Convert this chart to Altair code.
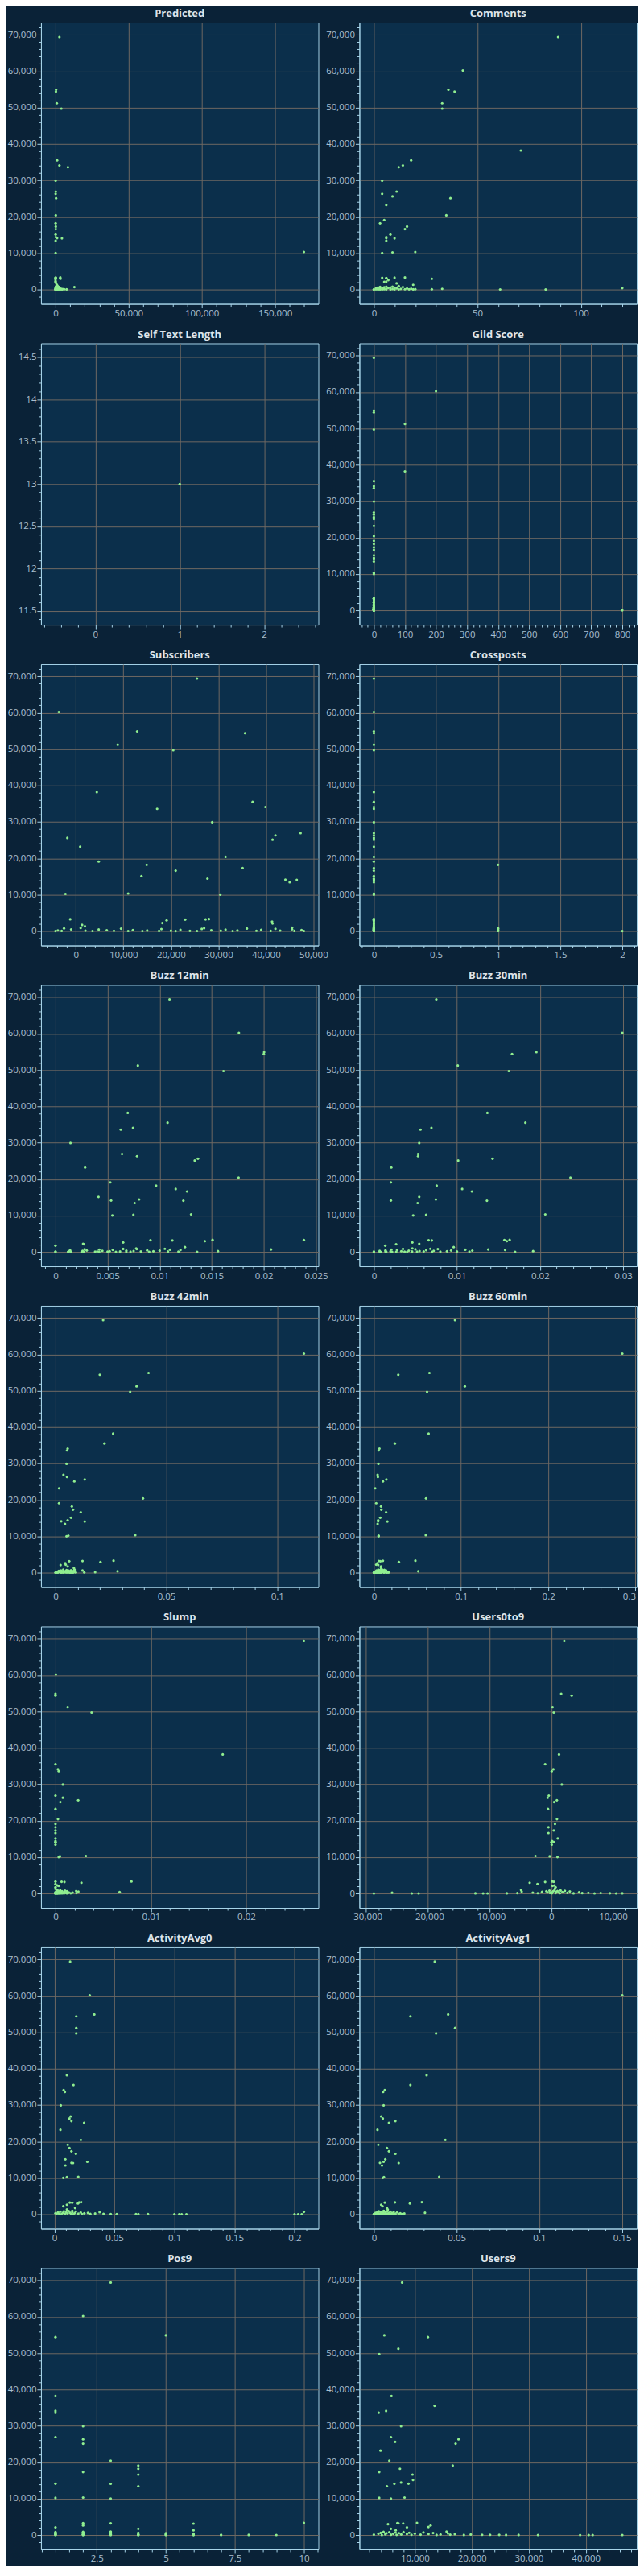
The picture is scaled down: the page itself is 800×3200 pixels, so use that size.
import altair as alt
import pandas as pd
import numpy as np

# ---------------- colours / fonts ----------------
BG = "#0a2237"
PLOT_BG = "#0b2f4b"
BORDER = "#a6d3e8"
GRID = "#6f6862"
LABEL = "#a9bfcf"
TITLE_C = "#dde4ea"
GREEN = "#90ee90"
FONT = "Open Sans"

# ---------------- shared target values ----------------
HIGH_Y = [69400, 60200, 54900, 54400, 51200, 49700, 38200, 35500, 34100, 33600,
          29900, 26900, 26300, 25600, 25100, 23200, 20400, 19100, 18200, 17300,
          16600, 15100, 14400, 14100, 14050, 13400, 10000, 10200, 10300]
MID_Y = [3300, 3250, 3200, 3150, 3100, 2950, 2600, 2200, 2100, 1700, 1300, 950]
LOW_Y = [850, 800, 760, 700, 660, 620, 580, 540, 500, 460,
         420, 380, 350, 320, 290, 260, 230, 200, 180, 160,
         140, 120, 100, 90, 80, 70, 60, 50, 40, 35,
         30, 25, 20, 15, 12, 10, 8, 5, 3, 0]

# ---------------- feature values ----------------
predicted_high = [2700, None, 400, 300, 900, 4000, None, 1100, 2700, 8500,
                  100, 200, 100, None, 400, None, 200, None, 100, 200,
                  200, 100, 200, 1100, 4400, 100, 100, None, 169800]
predicted_mid = [3300, 200, 0, 100, 3200, 3400, 0, 100, 0, 500, 1000, 1500]
predicted_low = [400, 1500, 300, 2200, 12900, 800, 1200, 200, 2600, 600,
                 1000, 3000, 100, 1800, 500, 2400, 300, 700, 4000, 1300,
                 100, 5000, 900, 200, 6000, 1600, 400, 3500, 0, 2000,
                 7600, 300, 1100, 0, 4500, 600, 2800, 200, 0, 100]

comments_high = [89, 43, 36, 39, 33, 33, 71, 18, 14, 12,
                 4, 11, 4, 9, 37, 6, 35, 5, 3, 16,
                 15, 8, 6, 6, 10, 6, 4, 9, 20]
comments_mid = [15, 10, 4, 6, 6, 28, 7, 6, 5, 11, 19, 12]
comments_low = [12, 6, 9, 3, 14, 5, 8, 2, 10, 4,
                7, 120, 1, 11, 16, 3, 6, 18, 33, 13,
                2, 9, 20, 5, 15, 28, 1, 17, 8, 4,
                19, 0, 12, 3, 10, 61, 6, 83, 2, 0]

selftext_x = [1]
selftext_y = [13]

gild_high = [0, 200, 0, 0, 100, 0, 100, 0, 0, 0,
             0, 0, 0, 0, 0, 0, 0, 0, 0, 0,
             0, 0, 0, 0, 0, 0, 0, 0, 0]
gild_mid = [0, 0, 0, 0, 0, 0, 0, 0, 0, 0, 0, 0]
gild_low = [0, 0, 0, 0, 0, 0, 0, 0, 0, 0,
            0, 0, 0, 0, 0, 0, 0, 0, 0, 0,
            0, 0, 0, 0, 0, 0, 0, 0, 0, 0,
            0, 0, 0, 0, 0, 0, 0, 0, 0, 800]

subscribers_high = [25500, -3600, 12900, 35600, 8800, 20500, 4400, 37200, 39900, 17100,
                    28700, 47300, 42000, -1800, 41400, 900, 31500, 4800, 14900, 35100,
                    21000, 13800, 27700, 44100, 46500, 45000, 30400, -2200, 11000]
subscribers_mid = [28000, -1200, 27300, 23000, None, 19100, 41300, 18200, 41400, 1300, 1900, 45500]
subscribers_low = [1000, 27000, -2500, 36000, 9500, 42000, 26500, 18000, 45500, -1000,
                   4800, 31500, 22000, 39000, 12000, 47500, 6500, 28500, -3800, 34000,
                   15000, 43000, 2000, 20000, 30500, 8000, 38000, 24000, 46000, -3000,
                   17500, 41000, 11000, 33000, 3500, 14000, 48000, 25500, -4300, 21000]

crossposts_high = [0, 0, 0, 0, 0, 0, 0, 0, 0, 0,
                   0, 0, 0, 0, 0, 0, 0, 0, 1, 0,
                   0, 0, 0, 0, 0, 0, 0, 0, 0]
crossposts_mid = [0, 0, 0, 0, 0, 0, 0, 0, 0, 0, 0, 0]
crossposts_low = [0, 1, 0, 0, 1, 0, 0, 0, 0, 0,
                  1, 0, 0, 0, 0, 0, 0, 1, 0, 0,
                  0, 0, 1, 0, 0, 0, 0, 0, 0, 0,
                  1, 0, 0, 0, 0, 0, 0, 0, 0, 2]

buzz12_high = [0.01095, 0.01761, 0.02003, 0.02, 0.00791, 0.01613, 0.00694, 0.01076, 0.00744, 0.00627,
               0.00144, 0.00639, 0.00783, 0.01368, 0.01337, 0.00284, 0.01758, 0.00526, 0.00966, 0.01154,
               0.01263, 0.00413, 0.00803, 0.00534, 0.01228, 0.0076, 0.00546, 0.00748, 0.01302]
buzz12_mid = [0.01508, 0.02385, 0.00912, 0.01122, None, 0.01434, 0.0065, 0.00265, 0.00273, 0.0, 0.01243, 0.00775]
buzz12_low = [0.0105, 0.0065, 0.0078, 0.0028, 0.0207, 0.0042, 0.0110, 0.0055, 0.0120, 0.0014,
              0.0088, 0.0030, 0.0068, 0.0100, 0.0045, 0.0026, 0.0075, 0.0156, 0.0052, 0.0094,
              0.0013, 0.0040, 0.0082, 0.0062, 0.0108, 0.0027, 0.0000, 0.0118, 0.0050, 0.0072,
              0.0038, 0.0015, 0.0090, 0.0058, 0.0025, 0.0136, 0.0042, 0.0068, 0.0000, 0.0012]

buzz30_high = [0.00751, 0.0299, 0.01956, 0.01663, 0.0101, 0.01624, 0.01366, 0.01824, 0.00693, 0.00561,
               0.00546, 0.00532, 0.00532, 0.01429, 0.01015, 0.0021, 0.02366, 0.00205, 0.00756, 0.01063,
               0.0118, 0.00546, 0.00746, 0.00205, 0.01361, 0.00527, 0.00473, 0.00629, 0.02063]
buzz30_mid = [0.01634, 0.01571, 0.00659, 0.00698, None, 0.016, 0.00463, 0.00546, 0.00268, 0.00137, 0.00961, 0.00463]
buzz30_low = [0.0068, 0.0035, 0.0077, 0.0050, 0.01376, 0.0021, 0.0110, 0.0028, 0.0158, 0.0063,
              0.0014, 0.0093, 0.01185, 0.0042, 0.0072, 0.0007, 0.0055, 0.01917, 0.0033, 0.0088,
              0.0020, 0.0060, 0.0100, 0.0014, 0.0046, 0.0080, 0.0027, 0.0115, 0.0007, 0.0052,
              0.0037, 0.0000, 0.0070, 0.0022, 0.0170, 0.0015, 0.0040, 0.0000, 0.0008, 0.0000]

buzz42_high = [0.0215, 0.1121, 0.042, 0.02, 0.0366, 0.0337, 0.026, 0.0221, 0.0055, 0.0052,
               0.005, 0.0036, 0.0052, 0.0132, 0.0085, 0.0016, 0.0395, 0.0016, 0.0074, 0.0079,
               0.0114, 0.007, 0.0055, 0.0026, 0.0132, 0.0043, 0.005, 0.0058, 0.036]
buzz42_mid = [0.0262, None, 0.0122, 0.0062, None, 0.0203, 0.0044, 0.0046, 0.0023, 0.0055, 0.0083, None]
buzz42_low = [0.0085, 0.0035, 0.0090, 0.0050, 0.0070, 0.0025, 0.0122, 0.0060, 0.0015, 0.0080,
              0.0045, 0.028, 0.0030, 0.0068, 0.0010, 0.0055, 0.0088, 0.0020, 0.0040, 0.0075,
              0.0179, 0.0012, 0.0062, 0.0130, 0.0035, 0.0082, 0.0005, 0.0048, 0.0092, 0.0022,
              0.0066, 0.0002, 0.0038, 0.0078, 0.0010, 0.0056, 0.0028, 0.0000, 0.0072, 0.0001]

buzz60_high = [0.093, 0.2848, 0.0637, 0.028, 0.1043, 0.061, 0.0628, 0.0241, 0.0064, 0.0055,
               0.0052, 0.0043, 0.0046, 0.0143, 0.0104, 0.0015, 0.0598, 0.0027, 0.0082, 0.0085,
               0.014, 0.0073, 0.0049, 0.0049, 0.0155, 0.0043, 0.0055, 0.0055, 0.0595]
buzz60_mid = [0.0476, 0.0104, 0.0058, 0.0076, None, 0.0287, 0.004, 0.0027, 0.005, 0.0082, 0.0082, 0.009]
buzz60_low = [0.0090, 0.0050, 0.0120, 0.0070, 0.0100, 0.0030, 0.0140, 0.0060, 0.0080, 0.0110,
              0.0040, 0.0509, 0.0020, 0.0095, 0.0130, 0.0055, 0.0015, 0.0075, 0.0105, 0.0035,
              0.0160, 0.0065, 0.0010, 0.0085, 0.0045, 0.0125, 0.0025, 0.0170, 0.0005, 0.0068,
              0.0115, 0.0038, 0.0003, 0.0082, 0.0150, 0.0018, 0.0058, 0.0000, 0.0028, 0.0001]

slump_high = [0.02604, 0.00004, 0.0, 0.0, 0.00128, 0.00379, 0.01753, 0.0, 0.00026, 0.00034,
              0.00077, 0.0, 0.00077, 0.00238, 0.00051, 0.0, 0.00026, 0.0, 0.0, 0.0,
              0.0, 0.0, 0.0, 0.0, 0.0, 0.0, 0.00034, 0.00047, 0.00319]
slump_mid = [0.00796, 0.0, 0.00064, 0.00094, None, 0.00272, 0.0, 0.0002, 0.00034, 0.0, 0.0, 0.0001]
slump_low = [0.0005, 0.0002, 0.0010, 0.0003, 0.00217, 0.0007, 0.0012, 0.0001, 0.0024, 0.0006,
             0.0004, 0.00672, 0.0009, 0.0000, 0.0014, 0.0002, 0.0018, 0.0005, 0.0003, 0.0011,
             0.0000, 0.0008, 0.0022, 0.0001, 0.0006, 0.0013, 0.0000, 0.0004, 0.0016, 0.0002,
             0.0009, 0.0000, 0.0007, 0.0003, 0.0012, 0.0000, 0.0005, 0.0001, 0.0000, 0.0002]

users0to9_high = [2100, None, 1600, 3300, 200, 400, 1250, -1000, 330, 70,
                  1700, -400, -600, 900, 460, -530, 920, 600, -460, 400,
                  -460, 1050, 130, 400, 0, 70, 1000, -260, -2570]
users0to9_mid = [130, None, 400, -1000, None, -3500, -2240, 500, 200, 700, 600, -4900]
users0to9_low = [500, 1500, -300, 2200, 1000, -800, 300, 3000, -4800, 800,
                 -1500, 1800, 0, 4500, -600, 1200, -3000, -25800, 6000, 2600,
                 -200, 8000, 700, -5500, 5000, 1400, -2200, 9500, 100, -7200,
                 3600, -12300, 11500, -21500, 7000, -10330, -22600, -11050, 10500, -28750]

activity0_high = [0.0132, 0.0295, 0.0333, 0.0183, 0.0183, 0.0183, 0.0105, 0.016, 0.0078, 0.0088,
                  0.0054, 0.0136, 0.0126, 0.0143, 0.0248, 0.0051, 0.0221, 0.0112, 0.0126, 0.0143,
                  0.018, 0.0092, 0.0275, 0.0143, 0.0156, 0.0092, 0.0075, 0.0105, 0.02]
activity0_mid = [0.0224, 0.0207, 0.0129, 0.0149, None, 0.0197, 0.0105, 0.0075, None, 0.0173, 0.0105, 0.015]
activity0_low = [0.012, 0.008, 0.018, 0.005, 0.2078, 0.015, 0.0377, 0.010, 0.022, 0.003,
                 0.013, 0.028, 0.007, 0.017, 0.001, 0.025, 0.011, 0.034, 0.004, 0.020,
                 0.009, 0.041, 0.014, 0.002, 0.030, 0.047, 0.006, 0.016, 0.052, 0.023,
                 0.068, 0.070, 0.078, 0.100, 0.104, 0.106, 0.110, 0.200, 0.203, 0.206]

activity1_high = [0.0368, 0.1502, 0.0449, 0.0221, 0.0491, 0.0376, 0.0319, 0.0221, 0.0066, 0.0056,
                  0.0059, 0.0044, 0.0054, 0.013, 0.0091, 0.0022, 0.0432, 0.0027, 0.0079, 0.0091,
                  0.013, 0.0069, 0.0059, 0.0037, 0.015, 0.0049, 0.0054, 0.0061, 0.0395]
activity1_mid = [0.029, 0.0128, 0.0066, None, None, 0.0218, 0.0044, 0.0052, None, 0.0079, 0.0084, 0.006]
activity1_low = [0.006, 0.003, 0.008, 0.010, 0.004, 0.012, 0.007, 0.002, 0.014, 0.005,
                 0.0309, 0.009, 0.001, 0.011, 0.006, 0.016, 0.003, 0.0184, 0.008, 0.004,
                 0.013, 0.002, 0.010, 0.007, 0.015, 0.001, 0.005, 0.012, 0.003, 0.009,
                 0.017, 0.000, 0.006, 0.011, 0.002, 0.008, 0.004, 0.000, 0.013, 0.001]

pos9_high = [3, 2, 5, 1, None, None, 1, None, 1, 1,
             2, 1, 2, None, 2, None, 3, 4, 4, 2,
             4, None, None, 1, 3, 4, 3, 1, 2]
pos9_mid = [10, 2, 3, None, 6, 2, 2, None, 1, 4, 6, 3]
pos9_low = [2, 1, 3, 2, 1, 4, 2, 3, 1, 5,
            2, 1, 6, 3, 2, 4, 1, 5, 2, 3,
            6, 1, 4, 2, 5, 3, 1, 7, 2, 6,
            4, 3, 8, 1, 5, 9, 2, 6, 7, 4]

users9_high = [7760, None, 4630, 12290, 7100, 3740, 5890, 13460, 4950, 3640,
               7570, 5800, 17660, 6540, 17150, 3970, 5510, 16640, 7380, 3740,
               9580, 9670, 7570, 8880, 6400, 5090, 5800, 3740, 8180]
users9_mid = [10370, 6920, 7100, 7940, None, 5280, 12760, 12380, 8600, 5800, 6640, 15560]
users9_low = [4500, 8000, 5500, 11500, 6600, 9000, 4000, 13200, 7200, 5000,
              15800, 10000, 3600, 6200, 12400, 8600, 17000, 4800, 14500, 7600,
              19800, 2800, 11000, 16200, 5800, 21800, 9400, 23200, 6800, 24800,
              13800, 26000, 18600, 28200, 4200, 31600, 39000, 40500, 41200, 46400]

# title, x-lists, x major step, x minor step
PANELS = [
    ("Predicted", (predicted_high, predicted_mid, predicted_low), 50000, 10000),
    ("Comments", (comments_high, comments_mid, comments_low), 50, 10),
    ("Self Text Length", None, 1, 0.2),
    ("Gild Score", (gild_high, gild_mid, gild_low), 100, 20),
    ("Subscribers", (subscribers_high, subscribers_mid, subscribers_low), 10000, 2000),
    ("Crossposts", (crossposts_high, crossposts_mid, crossposts_low), 0.5, 0.1),
    ("Buzz 12min", (buzz12_high, buzz12_mid, buzz12_low), 0.005, 0.001),
    ("Buzz 30min", (buzz30_high, buzz30_mid, buzz30_low), 0.01, 0.002),
    ("Buzz 42min", (buzz42_high, buzz42_mid, buzz42_low), 0.05, 0.01),
    ("Buzz 60min", (buzz60_high, buzz60_mid, buzz60_low), 0.1, 0.02),
    ("Slump", (slump_high, slump_mid, slump_low), 0.01, 0.002),
    ("Users0to9", (users0to9_high, users0to9_mid, users0to9_low), 10000, 2000),
    ("ActivityAvg0", (activity0_high, activity0_mid, activity0_low), 0.05, 0.01),
    ("ActivityAvg1", (activity1_high, activity1_mid, activity1_low), 0.05, 0.01),
    ("Pos9", (pos9_high, pos9_mid, pos9_low), 2.5, 0.5),
    ("Users9", (users9_high, users9_mid, users9_low), 10000, 2000),
]

W, H = 345, 350
PAD = 18


def padded(vals, span):
    lo, hi = min(vals), max(vals)
    if hi == lo:
        half = (span / 2) / 105.0
        return [lo - half, hi + half]
    k = (hi - lo) / (span - 2 * PAD)
    return [lo - PAD * k, hi + PAD * k]


def make_axis(domain, major, minor, flush=False):
    k0 = int(np.ceil(domain[0] / minor - 1e-9))
    k1 = int(np.floor(domain[1] / minor + 1e-9))
    vals = [float(round(k * minor, 10)) for k in range(k0, k1 + 1)]
    test = f"abs(datum.value / {major} - round(datum.value / {major})) < 1e-6"
    kw = {}
    kw["labelFlush"] = 3 if flush else False
    return alt.Axis(
        values=vals,
        format=",~r",
        labelExpr=f"({test}) ? replace(datum.label, '\u2212', '-') : ''",
        tickSize={"condition": {"test": test, "value": 5}, "value": 3},
        gridOpacity={"condition": {"test": test, "value": 1}, "value": 0},
        labelOverlap=False,
        title=None,
        **kw,
    )


charts = []
for i, (name, lists, xmaj, xmin) in enumerate(PANELS):
    if lists is None:
        xs, ys = list(selftext_x), list(selftext_y)
        ymaj, ymin = 0.5, 0.1
    else:
        hx, mx, lx = lists
        assert len(hx) == len(HIGH_Y) and len(mx) == len(MID_Y) and len(lx) == len(LOW_Y), name
        allx = list(hx) + list(mx) + list(lx)
        ally = HIGH_Y + MID_Y + LOW_Y
        xs = [x for x, y in zip(allx, ally) if x is not None]
        ys = [y for x, y in zip(allx, ally) if x is not None]
        ymaj, ymin = 10000, 2000
    df = pd.DataFrame({"x": xs, "y": ys})
    xd = padded(xs, W)
    yd = padded(ys, H)
    right_col = (i % 2 == 1)
    c = alt.Chart(df, title=name).mark_circle(size=10, color=GREEN, opacity=1).encode(
        x=alt.X("x:Q", scale=alt.Scale(domain=xd, nice=False, zero=False),
                axis=make_axis(xd, xmaj, xmin, flush=right_col)),
        y=alt.Y("y:Q", scale=alt.Scale(domain=yd, nice=False, zero=False),
                axis=make_axis(yd, ymaj, ymin)),
    ).properties(width=W, height=H)
    charts.append(c)

chart = alt.concat(*charts, columns=2, spacing={"row": 49, "column": 51}, bounds="flush").properties(
    padding=0, background=BG
).configure_view(
    fill=PLOT_BG, stroke=BORDER, strokeWidth=1
).configure_axis(
    domainColor=BORDER, tickColor=BORDER, gridColor=GRID, gridWidth=1,
    labelColor=LABEL, labelFont=FONT, labelFontSize=11.5, labelPadding=1
).configure_title(
    font=FONT, fontSize=13, fontWeight="bold", color=TITLE_C, offset=4, anchor="middle"
)

chart.save("out.html", embed_options={"renderer": "svg", "actions": False})
